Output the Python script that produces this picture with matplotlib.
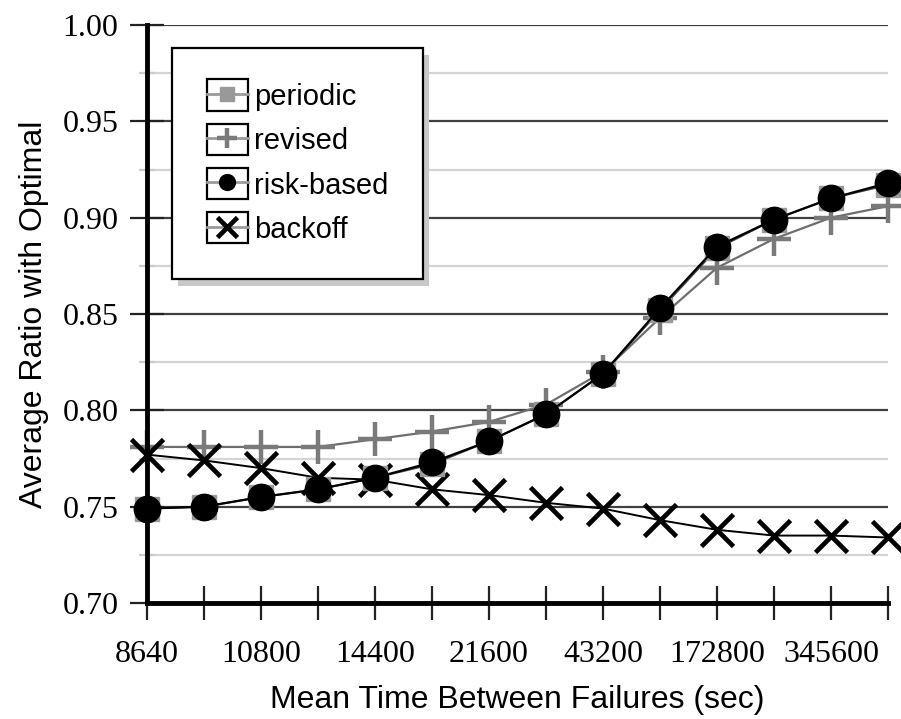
import numpy as np
import matplotlib.pyplot as plt
from matplotlib.legend_handler import HandlerLine2D
from matplotlib.patches import Rectangle
from matplotlib.ticker import MultipleLocator

# Mean time between failures (sec); only every other category is labelled
mtbf_labels = ["8640", "", "10800", "", "14400", "", "21600", "",
               "43200", "", "172800", "", "345600", ""]

periodic = [0.749, 0.750, 0.755, 0.759, 0.765, 0.772, 0.784, 0.798,
            0.819, 0.852, 0.884, 0.899, 0.910, 0.917]
revised = [0.781, 0.781, 0.781, 0.781, 0.785, 0.789, 0.794, 0.803,
           0.820, 0.848, 0.874, 0.889, 0.900, 0.906]
risk_based = [0.749, 0.750, 0.755, 0.759, 0.765, 0.773, 0.784, 0.798,
              0.819, 0.853, 0.885, 0.899, 0.910, 0.918]
backoff = [0.777, 0.774, 0.770, 0.765, 0.764, 0.759, 0.756, 0.752,
           0.749, 0.743, 0.738, 0.735, 0.735, 0.734]

SERIF = "Liberation Serif"
SANS = "Liberation Sans"


class BoxedHandler(HandlerLine2D):
    """legend handle drawn inside a small black frame, with a gray line"""

    def create_artists(self, legend, orig_handle, xdescent, ydescent,
                       width, height, fontsize, trans):
        artists = super().create_artists(legend, orig_handle, xdescent,
                                         ydescent, width, height,
                                         fontsize, trans)
        for a in artists:
            a.set_color("#9a9a9a")
            a.set_linewidth(2.0)
        box = Rectangle((-xdescent, -ydescent - 0.15 * height), width,
                        height * 1.3, transform=trans, fill=False,
                        edgecolor="black", linewidth=1.6)
        return [box] + artists


x = np.arange(len(mtbf_labels))

fig = plt.figure(figsize=(9.01, 7.19), dpi=100)
ax = fig.add_axes([147 / 901, 116 / 719, 741 / 901, 578 / 719])

ax.plot(x, revised, color="#6e6e6e", linewidth=1.6, marker="+",
        markersize=24, markeredgewidth=3.2, markerfacecolor="#7a7a7a",
        markeredgecolor="#7a7a7a", label="revised", clip_on=False, zorder=3)
ax.plot(x, backoff, color="black", linewidth=1.4, marker="x",
        markersize=23, markeredgewidth=3.4, markerfacecolor="black",
        markeredgecolor="black", label="backoff", clip_on=False, zorder=4)
ax.plot(x, periodic, color="#444444", linewidth=1.4, marker="s",
        markersize=17, markerfacecolor="#999999", markeredgecolor="#999999",
        label="periodic", clip_on=False, zorder=5)
ax.plot(x, risk_based, color="black", linewidth=1.6, marker="o",
        markersize=19, markerfacecolor="black", markeredgecolor="black",
        label="risk-based", clip_on=False, zorder=6)

ax.set_xlim(0, len(mtbf_labels) - 1)
ax.set_ylim(0.70, 1.00)
ax.set_xticks(x)
ax.set_xticklabels(mtbf_labels, fontfamily=SERIF, fontsize=23)
ax.yaxis.set_major_locator(MultipleLocator(0.05))
ax.yaxis.set_minor_locator(MultipleLocator(0.025))
ax.yaxis.set_major_formatter("{x:.2f}")
for lab in ax.get_yticklabels():
    lab.set_fontfamily(SERIF)
    lab.set_fontsize(23)

ax.tick_params(axis="x", direction="inout", length=25, width=1.6,
               color="#222222", pad=14)
ax.tick_params(axis="y", which="major", direction="inout", length=25,
               width=1.6, color="#222222", pad=8)
ax.tick_params(axis="y", which="minor", direction="inout", length=12,
               width=1.6, color="#cccccc")

ax.grid(True, axis="y", which="major", color="#404040", linewidth=1.6)
ax.grid(True, axis="y", which="minor", color="#d4d4d4", linewidth=1.6)
ax.set_axisbelow(True)
ax.yaxis.get_gridlines()[-1].set_color("#999999")

for side in ("top", "right"):
    ax.spines[side].set_visible(False)
for side in ("left", "bottom"):
    ax.spines[side].set_linewidth(3.5)
    ax.spines[side].set_zorder(7)

ax.set_xlabel("Mean Time Between Failures (sec)", fontfamily=SANS,
              fontsize=23, labelpad=12)
ax.set_ylabel("Average Ratio with Optimal", fontfamily=SANS,
              fontsize=23, labelpad=10)

handles, labels = ax.get_legend_handles_labels()
order = [labels.index(n) for n in ("periodic", "revised", "risk-based",
                                    "backoff")]
leg = ax.legend([handles[i] for i in order], [labels[i] for i in order],
                loc="upper left", bbox_to_anchor=(172 / 901, 1 - 48 / 719),
                bbox_transform=fig.transFigure, handler_map={
                    h: BoxedHandler(numpoints=1) for h in handles},
                prop={"family": SANS, "size": 21}, markerscale=0.6,
                frameon=True, fancybox=False, edgecolor="black",
                framealpha=1.0, borderpad=1.2, handlelength=1.4,
                handleheight=0.9, handletextpad=0.2, labelspacing=0.55,
                borderaxespad=0)
leg.get_frame().set_linewidth(1.6)
leg.set_zorder(10)

# soft drop shadow behind the legend frame
fig.canvas.draw()
bb = leg.get_window_extent().transformed(fig.transFigure.inverted())
shadow = Rectangle((bb.x0 + 6 / 901, bb.y0 - 7 / 719), bb.width, bb.height,
                   transform=fig.transFigure, facecolor="#c8c8c8",
                   edgecolor="none", zorder=9)
ax.add_artist(shadow)
shadow.set_clip_on(False)

fig.savefig("out.png", dpi=100)
